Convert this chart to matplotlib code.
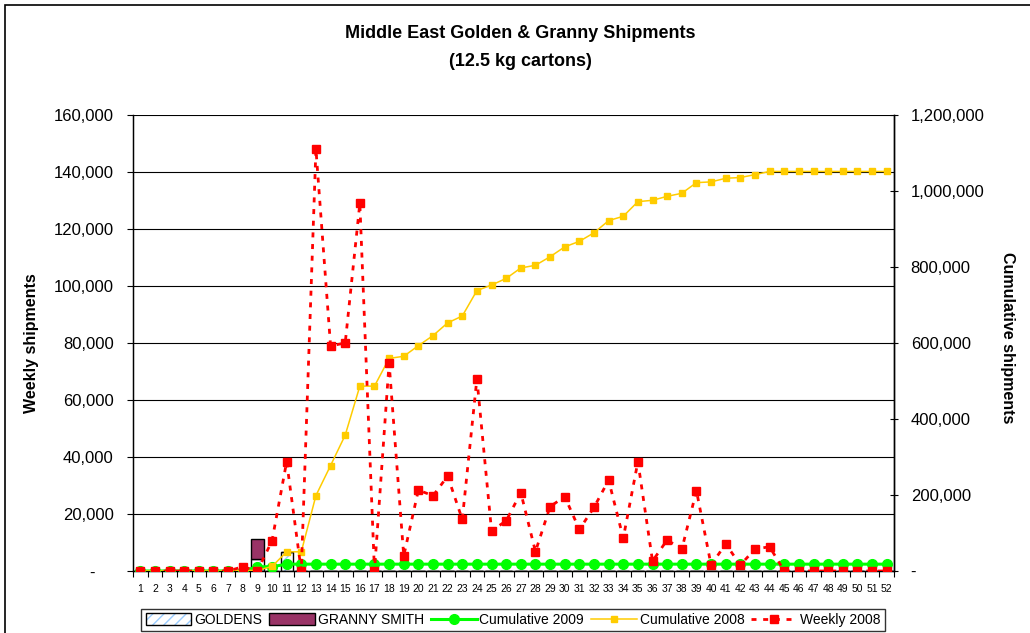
import matplotlib
matplotlib.use("Agg")
import matplotlib.pyplot as plt
from matplotlib.patches import Patch, Rectangle
from matplotlib.lines import Line2D
from matplotlib.ticker import FuncFormatter, FixedLocator

plt.rcParams['font.family'] = ['Liberation Sans', 'DejaVu Sans']

weeks = list(range(1, 53))
week_labels = [str(w) for w in weeks]

goldens = [0]*8 + [4200, 0, 6800] + [0]*41
granny = [0]*8 + [7000] + [0]*43

cum_2009 = [0]*8 + [11200, 11200] + [18000]*42

cum_2008 = [0, 0, 0, 0, 0, 0, 0, 1500, 1500, 12000, 50500, 50500, 198500,
            277500, 357500, 486500, 486500, 559500, 565000, 593000, 619500,
            653000, 671000, 738000, 752500, 770000, 797500, 804500, 827000,
            853000, 867500, 890000, 922000, 933500, 972000, 975500, 986000,
            994000, 1022000, 1024000, 1033500, 1035500, 1043000, 1051500,
            1051500, 1051500, 1051500, 1051500, 1051500, 1051500, 1051500, 1051500]

weekly_2008 = [0, 0, 0, 0, 0, 0, 0, 1500, 0, 10600, 38400, 0, 148000,
               79000, 80000, 129000, 0, 73000, 5300, 28400, 26400, 33300,
               18100, 67500, 14100, 17600, 27500, 6800, 22600, 26100, 14600,
               22300, 31900, 11500, 38400, 3500, 10900, 7600, 28200, 2100,
               9500, 2100, 7700, 8500, 0, 0, 0, 0, 0, 0, 0, 0]

left_ticks = [0, 20000, 40000, 60000, 80000, 100000, 120000, 140000, 160000]
right_ticks = [0, 200000, 400000, 600000, 800000, 1000000, 1200000]

W, H = 1030, 633
fig = plt.figure(figsize=(W/100, H/100), dpi=100)
pos = [133/W, 1-571/H, (894-133)/W, (571-115)/H]

ax1 = fig.add_axes(pos)
ax2 = ax1.twinx()
ax3 = fig.add_axes(pos, sharex=ax1, sharey=ax1)
ax3.patch.set_visible(False)
ax3.axis('off')

# bars
bw = 0.84
blue = '#99CCFF'
ax1.bar(weeks, goldens, width=bw, color='white', edgecolor=blue, hatch='///', linewidth=0, zorder=2)
ax1.bar(weeks, goldens, width=bw, fill=False, edgecolor='black', linewidth=1.0, zorder=2)
ax1.bar(weeks, granny, width=bw, bottom=goldens, color='#993366', edgecolor='black', linewidth=1.0, zorder=2)

ax1.set_ylim(0, 160000)
ax1.set_xlim(0.5, 52.5)
ax1.set_yticks(left_ticks)
ax1.yaxis.grid(True, color='black', linewidth=0.8)
ax1.set_axisbelow(True)
ax1.yaxis.set_major_formatter(FuncFormatter(lambda v, p: '-    ' if v == 0 else f'{int(v):,}'))
ax1.tick_params(axis='y', labelsize=12, length=4, width=0.8, pad=10, direction='out')

ax1.set_xticks(weeks)
ax1.set_xticklabels(week_labels)
ax1.xaxis.set_minor_locator(FixedLocator([w + 0.5 for w in range(0, 53)]))
ax1.tick_params(axis='x', which='major', length=0, labelsize=7.5, pad=9)
ax1.tick_params(axis='x', which='minor', length=4, width=0.8, direction='out')

for s in ['top']:
    ax1.spines[s].set_visible(False)
    ax2.spines[s].set_visible(False)
for s in ['left', 'bottom', 'right']:
    ax1.spines[s].set_linewidth(1.0)
ax2.spines['right'].set_linewidth(1.0)

# cumulative lines on right axis
ax2.plot(weeks, cum_2009, color='#00FF00', linewidth=2.2, marker='o', markersize=7,
         markeredgecolor='#00FF00', zorder=3)
ax2.plot(weeks, cum_2008, color='#FFCC00', linewidth=1.1, marker='s', markersize=5,
         markeredgecolor='#FFCC00', zorder=4)
ax2.set_ylim(0, 1200000)
ax2.set_yticks(right_ticks)
ax2.yaxis.set_major_formatter(FuncFormatter(lambda v, p: '-' if v == 0 else f'{int(v):,}'))
ax2.tick_params(axis='y', labelsize=12, length=6, width=0.8, pad=9, direction='inout')

# weekly line on top
ax3.plot(weeks, weekly_2008, color='#FF0000', linewidth=2.0, linestyle=(0, (1.8, 2.4)),
         marker='s', markersize=6, markeredgecolor='#FF0000', zorder=5)

# titles and labels
fig.text(520/W, 1-34/H, 'Middle East Golden & Granny Shipments', ha='center', va='center',
         fontsize=13, fontweight='bold')
fig.text(520/W, 1-61/H, '(12.5 kg cartons)', ha='center', va='center',
         fontsize=13, fontweight='bold')
fig.text(32/W, 1-343/H, 'Weekly shipments', rotation=90, ha='center', va='center',
         fontsize=11.5, fontweight='bold')
fig.text(1008/W, 1-338/H, 'Cumulative shipments', rotation=-90, ha='center', va='center',
         fontsize=11.5, fontweight='bold')

# legend
h_gold = (Patch(facecolor='white', edgecolor=blue, hatch='///', linewidth=0),
          Patch(fill=False, edgecolor='black', linewidth=1.0))
h_granny = Patch(facecolor='#993366', edgecolor='black', linewidth=1.0)
h_c09 = Line2D([], [], color='#00FF00', linewidth=2.2, marker='o', markersize=7)
h_c08 = Line2D([], [], color='#FFCC00', linewidth=1.1, marker='s', markersize=5)
h_w08 = Line2D([], [], color='#FF0000', linewidth=2.0, linestyle=(0, (1.8, 2.4)), marker='s', markersize=6)
leg = fig.legend([h_gold, h_granny, h_c09, h_c08, h_w08],
                 ['GOLDENS', 'GRANNY SMITH', 'Cumulative 2009', 'Cumulative 2008', 'Weekly 2008'],
                 loc='center', bbox_to_anchor=(513/W, 1-620/H), ncol=5, fontsize=10,
                 frameon=True, fancybox=False, edgecolor='black', handlelength=3.3,
                 handletextpad=0.2, columnspacing=0.5, borderpad=0.3, handleheight=0.9)
leg.get_frame().set_linewidth(1.0)

# outer chart border
fig.patches.append(Rectangle((5/W, -0.05), 1.1, 1-5/H+0.05, transform=fig.transFigure,
                             fill=False, edgecolor='black', linewidth=1.2))

fig.savefig('out.png', dpi=100)
